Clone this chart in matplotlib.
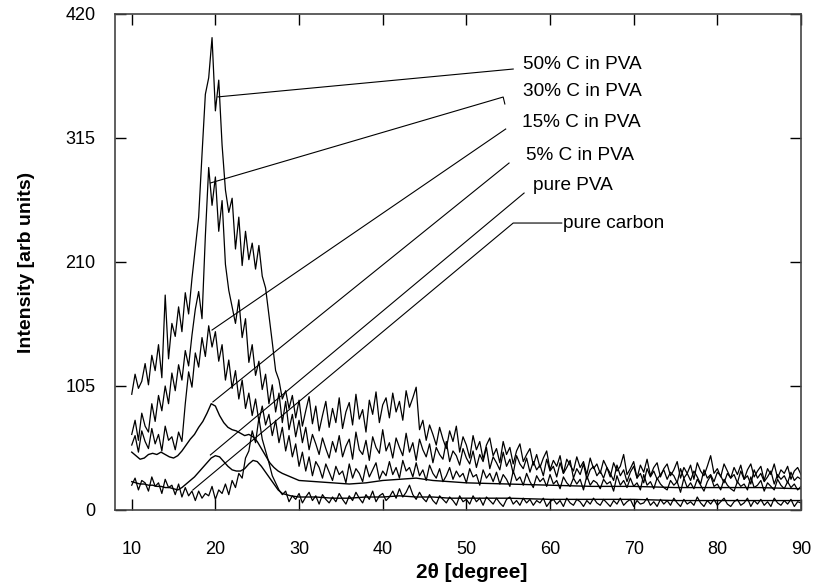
import numpy as np
import matplotlib
matplotlib.use("Agg")
import matplotlib.pyplot as plt

plt.rcParams['font.family'] = ['Liberation Sans', 'DejaVu Sans']

# noisy scans, every 0.4 degree from 10 to 90
c50_pva = [
    98, 115, 103, 109, 124, 106, 131, 118, 140, 112, 182, 128, 158, 147, 172, 151, 184, 166, 196, 222,
    248, 301, 352, 366, 400, 338, 364, 309, 271, 252, 264, 221, 248, 207, 236, 212, 226, 204, 224, 198,
    188, 165, 142, 118, 110, 94, 101, 86, 97, 78, 93, 71, 84, 96, 73, 88, 67, 80, 92, 70,
    86, 74, 95, 69, 83, 91, 72, 98, 77, 85, 66, 93, 81, 100, 74, 89, 95, 78, 99, 83,
    92, 76, 101, 87, 95, 104, 68, 76, 59, 72, 64, 55, 70, 60, 52, 67, 58, 71, 49, 62,
    55, 44, 63, 51, 58, 43, 55, 61, 46, 52, 40, 58, 47, 53, 39, 50, 56, 41, 47, 52,
    38, 47, 36, 44, 50, 34, 42, 37, 46, 31, 43, 38, 33, 45, 36, 41, 30, 44, 35, 39,
    31, 42, 36, 28, 40, 33, 37, 47, 30, 35, 41, 27, 38, 32, 43, 29, 36, 40, 28, 35,
    39, 29, 34, 41, 27, 36, 31, 38, 26, 40, 33, 29, 37, 46, 31, 35, 28, 39, 33, 27,
    36, 30, 38, 26, 34, 39, 28, 33, 37, 25, 35, 30, 39, 27, 34, 31, 37, 26, 33, 36,
    30,
]
c30_pva = [
    64, 76, 59, 82, 71, 66, 90, 75, 97, 84, 105, 90, 116, 101, 123, 110, 135, 122, 148, 170,
    185, 162, 232, 290, 258, 282, 236, 262, 208, 186, 172, 158, 178, 146, 162, 125, 140, 114, 126, 102,
    115, 90, 106, 83, 99, 74, 92, 68, 81, 62, 76, 57, 70, 51, 64, 56, 47, 61, 52, 44,
    58, 49, 63, 45, 54, 60, 43, 66, 51, 47, 59, 42, 62, 53, 48, 68, 50, 57, 44, 61,
    53, 46, 65, 49, 57, 42, 60, 51, 45, 56, 40, 53, 47, 43, 58, 41, 50, 46, 38, 52,
    44, 39, 50, 36, 47, 41, 53, 35, 45, 40, 34, 49, 37, 43, 31, 46, 39, 35, 44, 32,
    41, 34, 38, 29, 43, 33, 37, 28, 40, 31, 36, 42, 27, 35, 30, 39, 26, 34, 37, 29,
    33, 27, 36, 31, 25, 38, 29, 34, 24, 32, 37, 27, 31, 23, 35, 28, 33, 26, 30, 34,
    26, 32, 29, 23, 35, 27, 31, 25, 33, 28, 22, 34, 27, 30, 24, 32, 29, 23, 31, 27,
    30, 23, 33, 26, 29, 22, 34, 27, 31, 24, 28, 33, 22, 30, 26, 29, 23, 32, 25, 28,
    26,
]
c15_pva = [
    55, 63, 49, 67, 58, 52, 69, 56, 64, 50, 71, 59, 62, 51, 66, 58, 90, 117, 104, 133,
    121, 146, 130, 156, 138, 151, 126, 140, 110, 127, 103, 118, 94, 110, 86, 99, 80, 94, 75, 88,
    72, 81, 63, 76, 57, 70, 50, 63, 45, 56, 37, 49, 33, 45, 29, 41, 36, 27, 39, 32,
    25, 37, 30, 33, 23, 39, 27, 35, 31, 24, 38, 28, 34, 40, 26, 33, 29, 41, 30, 36,
    27, 42, 33, 36, 28, 40, 29, 34, 25, 38, 31, 27, 35, 24, 29, 36, 26, 33, 28, 31,
    23, 35, 28, 30, 21, 34, 27, 31, 24, 32, 22, 30, 26, 20, 33, 25, 28, 21, 31, 24,
    19, 29, 24, 27, 20, 30, 22, 25, 18, 28, 23, 20, 27, 22, 26, 17, 29, 21, 25, 23,
    18, 26, 22, 24, 16, 29, 21, 25, 19, 27, 20, 23, 17, 30, 21, 24, 18, 27, 22, 19,
    17, 25, 21, 24, 15, 27, 19, 23, 18, 26, 21, 16, 24, 29, 20, 22, 17, 26, 21, 18,
    16, 24, 20, 22, 17, 28, 19, 21, 25, 16, 23, 20, 17, 26, 21, 18, 24, 19, 22, 17,
    20,
]
pure_carbon = [
    21, 27, 17, 25, 23, 16, 28, 20, 23, 14, 26, 19, 21, 13, 22, 11, 19, 12, 16, 8,
    16, 10, 14, 12, 20, 9, 17, 14, 22, 13, 25, 19, 31, 27, 44, 50, 67, 57, 78, 60,
    50, 40, 29, 23, 17, 13, 16, 7, 12, 9, 14, 6, 11, 15, 8, 12, 5, 13, 9, 6,
    11, 7, 14, 9, 5, 12, 8, 15, 10, 6, 13, 9, 16, 7, 12, 14, 8, 11, 16, 10,
    18, 11, 15, 21, 13, 9, 15, 10, 7, 13, 8, 5, 12, 9, 6, 11, 8, 4, 12, 7,
    9, 5, 12, 7, 10, 4, 11, 8, 5, 10, 6, 3, 9, 11, 5, 8, 4, 10, 6, 9,
    4, 8, 6, 10, 3, 7, 9, 5, 8, 3, 10, 6, 4, 9, 7, 3, 8, 5, 10, 6,
    4, 9, 6, 3, 8, 5, 10, 4, 7, 9, 3, 8, 5, 6, 10, 4, 7, 3, 9, 5,
    8, 4, 10, 6, 3, 9, 5, 7, 4, 11, 6, 3, 8, 5, 9, 4, 7, 10, 5, 3,
    7, 9, 4, 6, 10, 3, 8, 5, 9, 4, 7, 3, 10, 6, 4, 8, 5, 9, 3, 7,
    6,
]

# smoother scans, read at uneven steps
smooth_theta = [10, 10.5, 11, 11.5, 12, 12.5, 13, 13.5, 14, 14.5, 15, 15.5, 16, 16.5, 17, 17.5,
                18, 18.5, 19, 19.5, 20, 20.5, 21, 21.5, 22, 22.5, 23, 23.5, 24, 24.5, 25, 25.5,
                26, 26.5, 27, 27.5, 28, 29, 30, 32, 34, 36, 38, 40, 42, 44, 46, 48, 50, 55,
                60, 65, 70, 75, 80, 85, 90]
c5_pva = [49, 46, 43, 44, 47, 48, 47, 49, 47, 45, 44, 46, 50, 55, 60, 64,
          70, 75, 82, 90, 88, 80, 74, 70, 68, 67, 65, 63, 64, 62, 58, 52,
          46, 40, 36, 33, 31, 28, 25, 24, 23, 22, 23, 25, 26, 27, 25, 24, 23, 22,
          21, 20, 20, 19, 19, 19, 18]
pure_pva = [24, 23, 22, 22, 21, 21, 20, 20, 19, 19, 18, 17, 19, 22, 25, 28,
            32, 36, 40, 44, 46, 45, 41, 37, 34, 33, 33, 35, 39, 42, 41, 37,
            32, 27, 22, 17, 14, 12, 11, 11, 10, 10, 11, 11, 12, 11, 11, 10, 10, 10,
            9, 9, 9, 8, 8, 8, 8]

labels = ['50% C in PVA', '30% C in PVA', '15% C in PVA', '5% C in PVA', 'pure PVA', 'pure carbon']
label_xy = [(56.8, 377), (56.8, 354), (56.7, 328.5), (57.1, 300.6), (58.0, 275.2), (61.6, 243)]
# leader lines: from the label side down to the curve
leaders = [
    [(55.6, 373.4), (20.3, 349.8)],
    [(54.6, 343.8), (54.4, 349.7), (19.4, 276.9)],
    [(54.7, 322.6), (19.6, 152.4)],
    [(55.1, 293.8), (19.7, 91.5)],
    [(56.9, 268.4), (19.4, 46.6)],
    [(61.4, 243.0), (55.6, 243.0), (17.3, 16.9)],
]

fig, ax = plt.subplots(figsize=(8.16, 5.86), dpi=100)
fig.subplots_adjust(left=115/816, right=801/816, top=1-14/586, bottom=1-510/586)

theta = np.linspace(10, 90, len(c50_pva))
for series in [pure_carbon, c15_pva, c30_pva, c50_pva]:
    ax.plot(theta, series, color='black', lw=0.9)
for series in [pure_pva, c5_pva]:
    ax.plot(smooth_theta, series, color='black', lw=1.0)

for path in leaders:
    xs, ys = zip(*path)
    ax.plot(xs, ys, color='black', lw=0.8)
for text, (tx, ty) in zip(labels, label_xy):
    ax.text(tx, ty, text, fontsize=13.7, ha='left', va='center')

ax.set_xlim(8, 90)
ax.set_ylim(0, 420)
ax.set_xticks([10, 20, 30, 40, 50, 60, 70, 80, 90])
ax.set_yticks([0, 105, 210, 315, 420])
ax.tick_params(direction='in', length=8, width=1, top=True, right=True, labelsize=13)
ax.tick_params(axis='y', pad=14)
ax.tick_params(axis='x', pad=22)
for sp in ax.spines.values():
    sp.set_color('#444444')
    sp.set_linewidth(1.2)

ax.set_xlabel('2\u03b8 [degree]', fontsize=15, fontweight='bold')
ax.xaxis.set_label_coords(0.52, -0.107)
ax.set_ylabel('Intensity [arb units)', fontsize=14, fontweight='bold', labelpad=22)

fig.savefig('out.png', dpi=100)
